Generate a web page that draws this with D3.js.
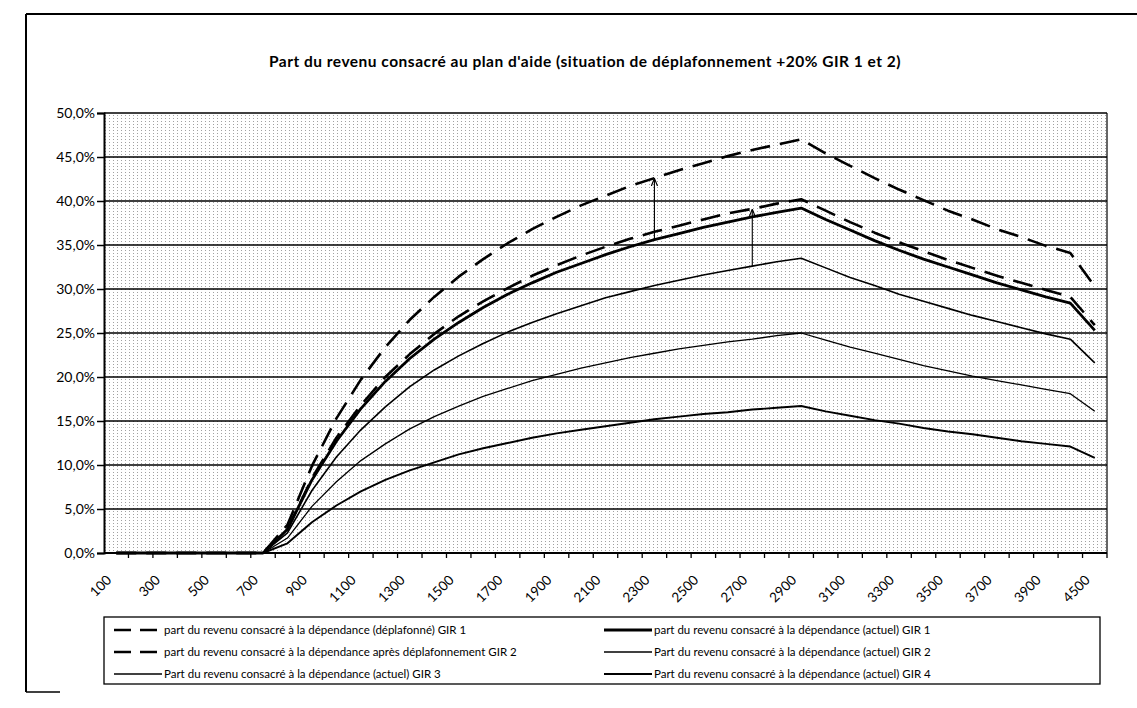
<!DOCTYPE html>
<html>
<head>
<meta charset="utf-8">
<script src="https://cdn.jsdelivr.net/npm/d3@7/dist/d3.min.js"></script>
<style>
    body { margin: 0; background: #fff; }
    text { font-family: Lato, "Open Sans", sans-serif; fill: #000; }
</style>
</head>
<body>
<svg id="svg" width="1137" height="708"></svg>
<script>
// revenu (euros) - categories of the x axis
const categories = [100, 200, 300, 400, 500, 600, 700, 800, 900, 1000, 1100, 1200, 1300, 1400, 1500,
    1600, 1700, 1800, 1900, 2000, 2100, 2200, 2300, 2400, 2500, 2600, 2700, 2800, 2900, 3000,
    3100, 3200, 3300, 3400, 3500, 3600, 3700, 3800, 3900, 4000, 4500];

const tickLabels = [100, 300, 500, 700, 900, 1100, 1300, 1500, 1700, 1900, 2100, 2300, 2500,
    2700, 2900, 3100, 3300, 3500, 3700, 3900, 4500];

const yTicks = [0, 5, 10, 15, 20, 25, 30, 35, 40, 45, 50];

// values in %
const gir1Deplafonne = [0, 0, 0, 0, 0, 0, 0, 3.2, 9.9, 15.3, 19.7, 23.4, 26.5, 29.1, 31.4, 33.4, 35.2,
    36.8, 38.2, 39.5, 40.6, 41.7, 42.6, 43.5, 44.3, 45.1, 45.8, 46.4, 47.0, 45.4, 44.0, 42.6, 41.3,
    40.1, 38.9, 37.9, 36.8, 35.9, 34.9, 34.1, 30.3];
const gir2Deplafonne = [0, 0, 0, 0, 0, 0, 0, 2.7, 8.5, 13.1, 16.8, 20.0, 22.6, 24.9, 26.9, 28.6, 30.1,
    31.5, 32.7, 33.8, 34.8, 35.7, 36.5, 37.2, 37.9, 38.6, 39.1, 39.7, 40.2, 38.9, 37.6, 36.4, 35.3,
    34.3, 33.3, 32.4, 31.5, 30.7, 29.9, 29.1, 25.9];
const gir1Actuel = [0, 0, 0, 0, 0, 0, 0, 2.7, 8.3, 12.7, 16.4, 19.5, 22.1, 24.3, 26.2, 27.9, 29.4,
    30.7, 31.9, 32.9, 33.9, 34.8, 35.6, 36.3, 37.0, 37.6, 38.2, 38.7, 39.2, 37.9, 36.7, 35.5, 34.4,
    33.4, 32.5, 31.6, 30.7, 29.9, 29.1, 28.4, 25.3];
const gir2Actuel = [0, 0, 0, 0, 0, 0, 0, 2.3, 7.1, 10.9, 14.0, 16.6, 18.9, 20.8, 22.4, 23.8, 25.1,
    26.2, 27.2, 28.1, 29.0, 29.7, 30.4, 31.0, 31.6, 32.1, 32.6, 33.1, 33.5, 32.4, 31.3, 30.4, 29.4,
    28.6, 27.8, 27.0, 26.3, 25.6, 24.9, 24.3, 21.6];
const gir3Actuel = [0, 0, 0, 0, 0, 0, 0, 1.7, 5.3, 8.1, 10.5, 12.4, 14.1, 15.5, 16.7, 17.8, 18.7,
    19.6, 20.3, 21.0, 21.6, 22.2, 22.7, 23.2, 23.6, 24.0, 24.3, 24.7, 25.0, 24.2, 23.4, 22.7, 22.0,
    21.3, 20.7, 20.1, 19.6, 19.1, 18.6, 18.1, 16.1];
const gir4Actuel = [0, 0, 0, 0, 0, 0, 0, 1.1, 3.5, 5.4, 7.0, 8.3, 9.4, 10.3, 11.2, 11.9, 12.5,
    13.1, 13.6, 14.0, 14.4, 14.8, 15.2, 15.5, 15.8, 16.0, 16.3, 16.5, 16.7, 16.1, 15.6, 15.1, 14.7,
    14.2, 13.8, 13.5, 13.1, 12.7, 12.4, 12.1, 10.8];

const seriesNames = [
    'part du revenu consacré à la dépendance (déplafonné) GIR 1',
    'part du revenu consacré à la dépendance après déplafonnement GIR 2',
    'Part du revenu consacré à la dépendance (actuel) GIR 3',
    'part du revenu consacré à la dépendance (actuel) GIR 1',
    'Part du revenu consacré à la dépendance (actuel) GIR 2',
    'Part du revenu consacré à la dépendance (actuel) GIR 4'
];

// arrows : category, from series, to series
const arrows = [
    {cat: 2300, from: gir1Actuel, to: gir1Deplafonne},
    {cat: 2700, from: gir2Actuel, to: gir2Deplafonne}
];

const title = "Part du revenu consacré au plan d'aide (situation de déplafonnement +20% GIR 1 et 2)";

// line styles, same order as seriesNames
const styles = [
    {width: 2.6, dash: '20,10'},
    {width: 2.6, dash: '20,10'},
    {width: 1.3, dash: null},
    {width: 2.8, dash: null},
    {width: 1.6, dash: null},
    {width: 1.9, dash: null}
];
const seriesData = [gir1Deplafonne, gir2Deplafonne, gir3Actuel, gir1Actuel, gir2Actuel, gir4Actuel];

let svg = d3.select('#svg');
let plot = {left: 104, right: 1107, top: 113, bottom: 553};

let x = d3.scaleBand()
    .domain(categories)
    .range([plot.left, plot.right])
    .padding(0);

let y = d3.scaleLinear()
    .domain([0, 50])
    .range([plot.bottom, plot.top]);

let xc = d => x(d) + x.bandwidth() / 2;

// outer frame
svg.append('line')
    .attr('x1', 26).attr('x2', 1137).attr('y1', 14).attr('y2', 14)
    .style('stroke', '#000').style('stroke-width', 2);
svg.append('line')
    .attr('x1', 26).attr('x2', 26).attr('y1', 14).attr('y2', 692)
    .style('stroke', '#000').style('stroke-width', 2);
svg.append('line')
    .attr('x1', 26).attr('x2', 60).attr('y1', 692).attr('y2', 692)
    .style('stroke', '#000').style('stroke-width', 1.5);

// title
svg.append('text')
    .attr('x', 585)
    .attr('y', 67)
    .attr('text-anchor', 'middle')
    .style('font-weight', 'bold')
    .style('font-size', '15.5px')
    .style('letter-spacing', '0.5px')
    .text(title);

// dotted background of the plot area
let defs = svg.append('defs');
let pattern = defs.append('pattern')
    .attr('id', 'dots')
    .attr('patternUnits', 'userSpaceOnUse')
    .attr('width', 4)
    .attr('height', 3);
pattern.append('rect')
    .attr('width', 4).attr('height', 3)
    .style('fill', '#fff');
pattern.append('rect')
    .attr('x', 1).attr('y', 1).attr('width', 1).attr('height', 1)
    .style('fill', '#444')
    .style('fill-opacity', 0.5);

defs.append('marker')
    .attr('id', 'head')
    .attr('viewBox', '0 0 10 10')
    .attr('refX', 9).attr('refY', 5)
    .attr('markerWidth', 7).attr('markerHeight', 7)
    .attr('orient', 'auto')
    .append('path')
        .attr('d', 'M0,1 L10,5 L0,9')
        .style('fill', 'none')
        .style('stroke', '#000')
        .style('stroke-width', 1.5);

svg.append('rect')
    .attr('x', plot.left)
    .attr('y', plot.top)
    .attr('width', plot.right - plot.left)
    .attr('height', plot.bottom - plot.top)
    .style('fill', 'url(#dots)');

// gridlines
svg.append('g')
    .selectAll('line')
    .data(yTicks)
    .enter()
    .append('line')
        .attr('x1', plot.left)
        .attr('x2', plot.right)
        .attr('y1', d => y(d))
        .attr('y2', d => y(d))
        .style('stroke', '#000')
        .style('stroke-width', 1.4);

// plot border right
svg.append('line')
    .attr('x1', plot.right).attr('x2', plot.right)
    .attr('y1', plot.top).attr('y2', plot.bottom)
    .style('stroke', '#000').style('stroke-width', 1.2);

// y axis
let yAxis = svg.append('g')
    .attr('transform', `translate(${plot.left},0)`)
    .call(d3.axisLeft(y)
        .tickValues(yTicks)
        .tickSize(7)
        .tickPadding(2)
        .tickFormat(d => d3.format('.1f')(d).replace('.', ',') + '%'));
yAxis.select('.domain').style('stroke-width', 2);
yAxis.selectAll('line').style('stroke-width', 1.5);
yAxis.selectAll('text')
    .style('font-size', '14px')
    .style('font-family', 'Lato, sans-serif');

// x axis, ticks between categories
let xAxis = svg.append('g')
    .attr('transform', `translate(0,${plot.bottom})`);
xAxis.append('line')
    .attr('x1', plot.left).attr('x2', plot.right)
    .style('stroke', '#000').style('stroke-width', 2.2);
xAxis.selectAll('.tick')
    .data(categories)
    .enter()
    .append('line')
        .attr('class', 'tick')
        .attr('x1', d => x(d) + x.bandwidth())
        .attr('x2', d => x(d) + x.bandwidth())
        .attr('y1', 0)
        .attr('y2', 5)
        .style('stroke', '#000')
        .style('stroke-width', 1.3);
xAxis.selectAll('.xlabel')
    .data(tickLabels)
    .enter()
    .append('text')
        .attr('class', 'xlabel')
        .attr('text-anchor', 'end')
        .attr('transform', d => `translate(${xc(d) - 4},${28}) rotate(-45)`)
        .style('font-size', '13.5px')
        .text(d => d);

// series
let line = d3.line()
    .x((d, i) => xc(categories[i]))
    .y(d => y(d));

svg.append('g')
    .selectAll('path')
    .data(seriesData)
    .enter()
    .append('path')
        .attr('d', d => line(d))
        .style('fill', 'none')
        .style('stroke', '#000')
        .style('stroke-linejoin', 'round')
        .style('stroke-width', (d, i) => styles[i].width)
        .style('stroke-dasharray', (d, i) => styles[i].dash);

// arrows
svg.append('g')
    .selectAll('line')
    .data(arrows)
    .enter()
    .append('line')
        .attr('x1', d => xc(d.cat))
        .attr('x2', d => xc(d.cat))
        .attr('y1', d => y(d.from[categories.indexOf(d.cat)]))
        .attr('y2', d => y(d.to[categories.indexOf(d.cat)]) + 1)
        .style('stroke', '#000')
        .style('stroke-width', 1.1)
        .attr('marker-end', 'url(#head)');

// legend
let legend = {left: 104, top: 617, right: 1100, bottom: 684, rowH: 22};
svg.append('rect')
    .attr('x', legend.left)
    .attr('y', legend.top)
    .attr('width', legend.right - legend.left)
    .attr('height', legend.bottom - legend.top)
    .style('fill', 'none')
    .style('stroke', '#000')
    .style('stroke-width', 1.3);

let items = svg.append('g')
    .selectAll('g')
    .data(seriesNames)
    .enter()
    .append('g')
        .attr('transform', (d, i) => {
            let col = i < 3 ? 0 : 1;
            let row = i % 3;
            return `translate(${col == 0 ? 114 : 604},${legend.top + 13 + row * legend.rowH})`;
        });

items.append('line')
    .attr('x1', 0)
    .attr('x2', 48)
    .style('stroke', '#000')
    .style('stroke-width', (d, i) => styles[i].width)
    .style('stroke-dasharray', (d, i) => styles[i].dash ? '17,9' : null);

items.append('text')
    .attr('x', 50)
    .attr('dy', '0.35em')
    .style('font-size', '11.5px')
    .text(d => d);
</script>
</body>
</html>
